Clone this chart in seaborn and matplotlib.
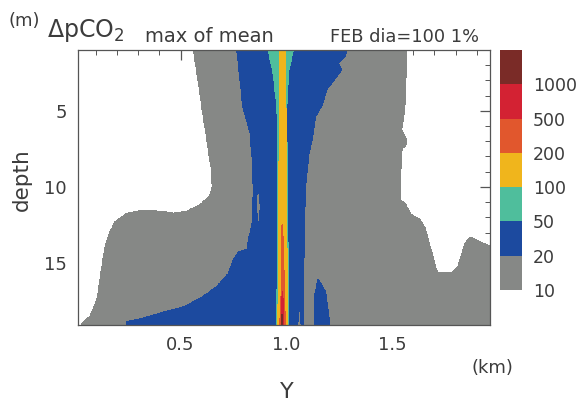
import numpy as np
import matplotlib
matplotlib.use("Agg")
import matplotlib.pyplot as plt
from matplotlib.path import Path
from matplotlib.ticker import MultipleLocator
import seaborn as sns

# ---------------- data ----------------
levels = [10, 20, 50, 100, 200, 500, 1000]
level_top = 5000
level_labels = ["10", "20", "50", "100", "200", "500", "1000"]
class_colors = ["#868886", "#1c4a9f", "#4fbe9c", "#f0b51c", "#e1572d", "#d32233", "#7a2b27"]

y_range = [0.015, 1.963]      # km
depth_range = [1.0, 19.08]    # m
xticks = [0.5, 1.0, 1.5]
yticks = [5, 10, 15]

# region outlines (Y in km, depth in m) and the value class painted inside
left_white_y = [-0.1, 0.561, 0.561, 0.577, 0.600, 0.624, 0.643, 0.650, 0.636, 0.592, 0.529,
                0.466, 0.420, 0.371, 0.308, 0.246, 0.190, 0.163, 0.143, 0.123, 0.104, 0.072,
                0.033, 0.025, -0.1]
left_white_d = [0.5, 0.5, 1.0, 2.5, 4.7, 6.9, 8.66, 9.98, 10.6, 11.18, 11.6,
                11.74, 11.62, 11.56, 11.56, 11.74, 12.3, 13.05, 13.9, 15.7, 17.4, 18.5,
                18.97, 19.5, 19.5]

right_white_y = [2.1, 1.569, 1.569, 1.566, 1.561, 1.546, 1.566, 1.569, 1.548, 1.546, 1.538,
                 1.540, 1.560, 1.590, 1.630, 1.656, 1.680, 1.710, 1.720, 1.780, 1.810, 1.845,
                 1.869, 1.916, 1.963, 2.1]
right_white_d = [0.5, 0.5, 1.0, 2.5, 4.7, 6.25, 6.8, 7.2, 7.5, 8.0, 9.5,
                 10.86, 11.05, 11.8, 12.1, 12.7, 13.9, 15.46, 15.66, 15.66, 15.26, 13.7,
                 13.3, 13.6, 13.9, 14.0]

blue_y = [0.766, 0.766, 0.778, 0.794, 0.829, 0.838, 0.845, 0.840, 0.837, 0.820, 0.815,
          0.790, 0.773, 0.750, 0.726, 0.671, 0.608, 0.513, 0.403, 0.324, 0.246, 0.238,
          1.082, 1.082, 1.085, 1.090, 1.104, 1.128, 1.136, 1.152, 1.167, 1.191, 1.238,
          1.262, 1.246, 1.278, 1.286, 1.286]
blue_d = [0.5, 1.0, 2.5, 4.7, 6.47, 8.0, 10.2, 12.0, 12.6, 13.5, 14.1,
          14.2, 14.3, 14.8, 15.7, 16.56, 17.2, 17.9, 18.3, 18.64, 18.86, 19.5,
          19.5, 17.0, 12.4, 10.2, 8.0, 6.47, 5.37, 5.05, 4.7, 3.6, 2.74,
          2.3, 1.86, 1.43, 1.0, 0.5]

blue_island_y = [1.150, 1.165, 1.185, 1.195, 1.207, 1.130, 1.136]
blue_island_d = [16.1, 16.4, 16.9, 17.8, 19.5, 19.5, 17.0]

gray_sliver_y = [0.866, 0.878, 0.872, 0.856]
gray_sliver_d = [9.9, 11.2, 13.0, 11.2]

gray_wedge_y = [1.065, 1.072, 1.049]
gray_wedge_d = [17.65, 19.5, 19.5]

teal_y = [0.914, 0.914, 0.937, 0.955, 0.960, 0.956, 1.011, 1.003, 1.003, 1.010, 1.032, 1.032]
teal_d = [0.5, 1.0, 2.5, 4.7, 6.0, 19.5, 19.5, 6.0, 4.7, 2.5, 1.0, 0.5]

yellow_y = [0.968, 0.970, 0.966, 0.960, 1.007, 0.998, 0.994, 0.996]
yellow_d = [0.5, 2.5, 5.0, 19.5, 19.5, 5.0, 2.5, 0.5]

orange_y = [0.981, 0.986, 0.990, 0.998, 0.968, 0.975, 0.978]
orange_d = [12.0, 14.0, 17.0, 19.5, 19.5, 17.0, 14.0]

red_y = [0.982, 0.987, 0.990, 0.974, 0.977]
red_d = [16.8, 18.0, 19.5, 19.5, 18.0]

brown_y = [0.981, 0.985, 0.978]
brown_d = [18.0, 19.5, 19.5]

gray_value, white_value = 15, 5
regions = [
    (left_white_y, left_white_d, white_value),
    (right_white_y, right_white_d, white_value),
    (blue_y, blue_d, 35),
    (blue_island_y, blue_island_d, 35),
    (gray_sliver_y, gray_sliver_d, gray_value),
    (gray_wedge_y, gray_wedge_d, gray_value),
    (teal_y, teal_d, 70),
    (yellow_y, yellow_d, 150),
    (orange_y, orange_d, 300),
    (red_y, red_d, 700),
    (brown_y, brown_d, 2000),
]

# ---------------- build field ----------------
Yg = np.linspace(y_range[0], y_range[1], 1000)
Dg = np.linspace(depth_range[0], depth_range[1], 500)
YY, DD = np.meshgrid(Yg, Dg)
pts = np.column_stack([YY.ravel(), DD.ravel()])
Z = np.full(YY.size, float(gray_value))
for ry, rd, val in regions:
    inside = Path(np.column_stack([ry, rd])).contains_points(pts)
    Z[inside] = val
Z = Z.reshape(YY.shape)

# ---------------- plot ----------------
sns.set_style("white")
plt.rcParams["font.family"] = ["DejaVu Sans"]
txt = "#3c3c3c"

W, H = 582, 408
fig = plt.figure(figsize=(W / 100, H / 100), dpi=100)
ax = fig.add_axes([78 / W, 1 - 325 / H, (490 - 78) / W, (325 - 50) / H])
cs = ax.contourf(YY, DD, Z, levels=levels + [level_top], colors=class_colors)

ax.set_xlim(*y_range)
ax.set_ylim(depth_range[1], depth_range[0])
ax.set_xticks(xticks)
ax.set_xticklabels([f"{v:.1f}" for v in xticks])
ax.set_yticks(yticks)
ax.xaxis.set_minor_locator(MultipleLocator(0.1))
ax.yaxis.set_minor_locator(MultipleLocator(1))
ax.tick_params(which="both", direction="in", top=True, right=True, colors="#555555",
               labelcolor=txt, labelsize=13)
ax.tick_params(which="major", length=7, width=0.9)
ax.tick_params(which="minor", length=3.5, width=0.7)
ax.tick_params(axis="x", pad=8)
ax.tick_params(axis="y", pad=8)
for s in ax.spines.values():
    s.set_color("#555555")
    s.set_linewidth(0.9)

# colorbar
cax = fig.add_axes([500 / W, 1 - 290 / H, 22 / W, 240 / H])
cb = fig.colorbar(cs, cax=cax, ticks=levels)
cb.set_ticklabels(level_labels)
cb.outline.set_visible(False)
cax.tick_params(length=0, labelsize=12.5, labelcolor=txt, pad=8)

# texts
fig.text(8 / W, 1 - 21 / H, "(m)", size=13, color=txt, va="center")
fig.text(47 / W, 1 - 31 / H, r"$\Delta$pCO$_2$", size=17, color=txt, va="center")
fig.text(145 / W, 1 - 36 / H, "max of mean", size=14, color=txt, va="center")
fig.text(330 / W, 1 - 37 / H, "FEB dia=100 1%", size=12.8, color=txt, va="center")
fig.text(22 / W, 1 - 180 / H, "depth", size=15.5, color=txt, va="center", ha="center",
         rotation=90)
fig.text(287 / W, 1 - 392 / H, "Y", size=16, color=txt, va="center", ha="center")
fig.text(492 / W, 1 - 368 / H, "(km)", size=13, color=txt, va="center", ha="center")

fig.savefig("out.png", dpi=100)
